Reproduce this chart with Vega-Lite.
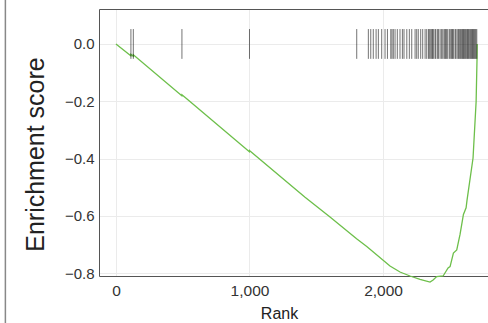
{
  "$schema": "https://vega.github.io/schema/vega-lite/v6.json",
  "autosize": "none",
  "width": 389,
  "height": 267,
  "padding": {"left": 99, "top": 9, "right": 0, "bottom": 47},
  "background": "white",
  "config": {
    "view": {"stroke": null},
    "font": "Liberation Sans",
    "axis": {"labelFont": "Liberation Sans", "titleFont": "Liberation Sans", "labelColor": "#333", "titleColor": "#222", "titleFontWeight": "normal"}
  },
  "datasets": {
    "es": [
      {"rank": 0, "es": 0},
      {"rank": 111, "es": -0.041},
      {"rank": 112, "es": -0.036},
      {"rank": 129, "es": -0.043},
      {"rank": 130, "es": -0.038},
      {"rank": 493, "es": -0.181},
      {"rank": 494, "es": -0.177},
      {"rank": 532, "es": -0.192},
      {"rank": 999, "es": -0.376},
      {"rank": 1000, "es": -0.372},
      {"rank": 1004, "es": -0.374},
      {"rank": 1416, "es": -0.535},
      {"rank": 1603, "es": -0.604},
      {"rank": 1802, "es": -0.68},
      {"rank": 1878, "es": -0.707},
      {"rank": 2052, "es": -0.775},
      {"rank": 2127, "es": -0.796},
      {"rank": 2202, "es": -0.81},
      {"rank": 2277, "es": -0.822},
      {"rank": 2352, "es": -0.831},
      {"rank": 2375, "es": -0.824},
      {"rank": 2402, "es": -0.812},
      {"rank": 2450, "es": -0.81},
      {"rank": 2487, "es": -0.782},
      {"rank": 2502, "es": -0.777},
      {"rank": 2527, "es": -0.73},
      {"rank": 2552, "es": -0.719},
      {"rank": 2577, "es": -0.664},
      {"rank": 2602, "es": -0.595},
      {"rank": 2622, "es": -0.572},
      {"rank": 2629, "es": -0.545},
      {"rank": 2674, "es": -0.398},
      {"rank": 2697, "es": -0.202},
      {"rank": 2704, "es": -0.049},
      {"rank": 2705, "es": 0}
    ],
    "hits": [
      {"rank": 112}, {"rank": 130}, {"rank": 494}, {"rank": 1000}, {"rank": 1803},
      {"rank": 1890}, {"rank": 1908}, {"rank": 1927}, {"rank": 1948}, {"rank": 1965},
      {"rank": 1990}, {"rank": 2015}, {"rank": 2033}, {"rank": 2058}, {"rank": 2067},
      {"rank": 2077}, {"rank": 2090}, {"rank": 2107}, {"rank": 2127}, {"rank": 2145},
      {"rank": 2157}, {"rank": 2178}, {"rank": 2197}, {"rank": 2215}, {"rank": 2240},
      {"rank": 2252}, {"rank": 2264}, {"rank": 2282}, {"rank": 2297}, {"rank": 2315},
      {"rank": 2327}, {"rank": 2340}, {"rank": 2347}, {"rank": 2357}, {"rank": 2365},
      {"rank": 2370}, {"rank": 2377}, {"rank": 2389}, {"rank": 2395}, {"rank": 2407},
      {"rank": 2415}, {"rank": 2427}, {"rank": 2437}, {"rank": 2447}, {"rank": 2457},
      {"rank": 2464}, {"rank": 2470}, {"rank": 2477}, {"rank": 2485}, {"rank": 2497},
      {"rank": 2507}, {"rank": 2514}, {"rank": 2520}, {"rank": 2527}, {"rank": 2539},
      {"rank": 2545}, {"rank": 2555}, {"rank": 2564}, {"rank": 2570}, {"rank": 2577},
      {"rank": 2583}, {"rank": 2590}, {"rank": 2596}, {"rank": 2602}, {"rank": 2608},
      {"rank": 2614}, {"rank": 2620}, {"rank": 2627}, {"rank": 2633}, {"rank": 2639},
      {"rank": 2645}, {"rank": 2652}, {"rank": 2658}, {"rank": 2664}, {"rank": 2670},
      {"rank": 2677}, {"rank": 2683}, {"rank": 2689}, {"rank": 2695}, {"rank": 2702}
    ]
  },
  "resolve": {"axis": {"x": "independent"}},
  "layer": [
    {
      "data": {"values": [{}]},
      "mark": {"type": "rule", "color": "#888", "strokeWidth": 1.5, "clip": false},
      "encoding": {"x": {"datum": -828, "axis": null}, "y": {"datum": 0.16}, "y2": {"datum": -0.98}}
    },
    {
      "data": {"name": "es"},
      "mark": {"type": "line", "color": "#6dbf4a", "strokeWidth": 1.3},
      "encoding": {
        "x": {
          "field": "rank", "type": "quantitative",
          "scale": {"domain": [-127, 2786], "nice": false, "zero": false},
          "axis": {
            "orient": "bottom",
            "values": [0, 1000, 2000], "format": ",d", "ticks": false,
            "grid": true, "gridColor": "#ebebeb", "gridWidth": 1,
            "domainColor": "#555", "domainWidth": 1,
            "labelFontSize": 15.5, "labelPadding": 7,
            "title": "Rank", "titleFontSize": 16,
            "titleX": 180, "titleY": 42, "titleBaseline": "alphabetic", "titleAlign": "center"
          }
        },
        "y": {
          "field": "es", "type": "quantitative",
          "scale": {"domain": [-0.81, 0.122], "nice": false, "zero": false},
          "axis": {
            "values": [-0.8, -0.6, -0.4, -0.2, 0], "format": ".1f", "ticks": false,
            "grid": true, "gridColor": "#ebebeb", "gridWidth": 1,
            "domainColor": "#555", "domainWidth": 1,
            "labelFontSize": 15, "labelPadding": 5,
            "title": "Enrichment score", "titleFontSize": 25,
            "titleX": -56, "titleY": 145, "titleBaseline": "alphabetic", "titleAlign": "center", "titleAngle": -90
          }
        }
      }
    },
    {
      "data": {"name": "hits"},
      "mark": {"type": "rule", "color": "#000", "strokeWidth": 1, "opacity": 0.55},
      "encoding": {
        "x": {
          "field": "rank", "type": "quantitative",
          "axis": {"orient": "top", "labels": false, "ticks": false, "grid": false, "domain": true, "domainColor": "#555", "domainWidth": 1, "title": null}
        },
        "y": {"datum": 0.052},
        "y2": {"datum": -0.052}
      }
    },
    {
      "mark": {"type": "rule", "color": "#000", "strokeWidth": 1},
      "encoding": {"y": {"datum": 0}}
    }
  ]
}
